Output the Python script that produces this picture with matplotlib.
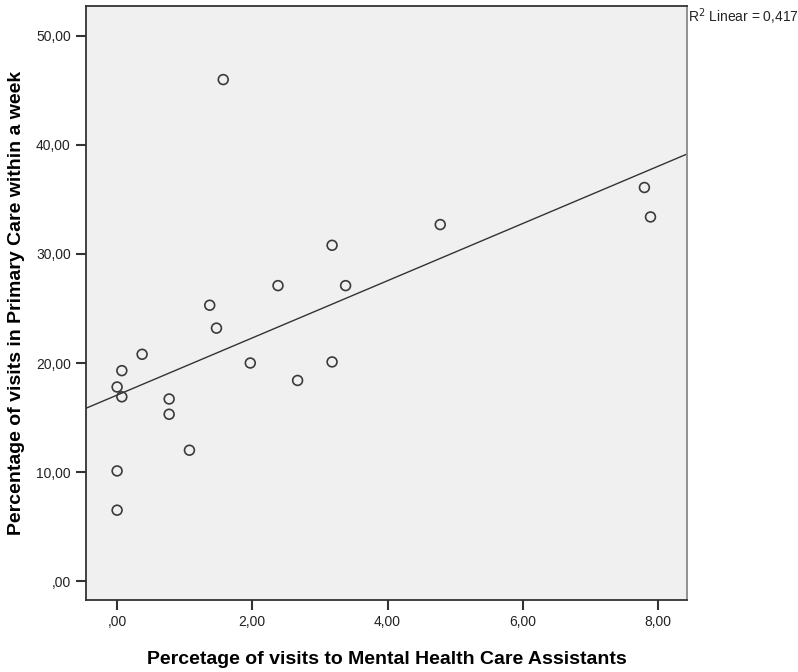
import numpy as np
import matplotlib
matplotlib.use("Agg")
import matplotlib.pyplot as plt
from matplotlib.ticker import FuncFormatter

plt.rcParams['font.family'] = ['Liberation Sans', 'DejaVu Sans']

# data
mhca_pct = [1.57, 7.80, 7.89, 4.78, 3.18, 2.38, 3.38, 1.37, 1.47, 0.37, 0.07,
            0.00, 0.07, 0.77, 0.77, 1.97, 3.18, 2.67, 1.07, 0.00, 0.00]
pc_pct = [46.0, 36.1, 33.4, 32.7, 30.8, 27.1, 27.1, 25.3, 23.2, 20.8, 19.3,
          17.8, 16.9, 16.7, 15.3, 20.0, 20.1, 18.4, 12.0, 10.1, 6.5]
x_ticks = [0, 2, 4, 6, 8]
y_ticks = [0, 10, 20, 30, 40, 50]
r2_label = "R$^2$ Linear = 0,417"

x = np.array(mhca_pct)
y = np.array(pc_pct)


def comma_fmt(v, pos):
    s = f"{v:.2f}".replace(".", ",")
    if s.startswith("0,"):
        s = s[1:]
    return s


fig = plt.figure(figsize=(7.98, 6.72), dpi=100)
ax = fig.add_axes([86/798, 1 - 600/672, (687-86)/798, (600-6)/672])
ax.set_facecolor("#f0f0f0")

ax.set_xlim(-0.46, 8.43)
ax.set_ylim(-1.74, 52.75)

# linear fit line across the whole axis
slope, intercept = np.polyfit(x, y, 1)
xl = np.array(ax.get_xlim())
ax.plot(xl, slope * xl + intercept, color="#333333", lw=1.0, zorder=2)

ax.scatter(x, y, s=50, facecolors="none", edgecolors="#3a3a3a",
           linewidths=1.2, zorder=3)

ax.set_xticks(x_ticks)
ax.set_yticks(y_ticks)
ax.xaxis.set_major_formatter(FuncFormatter(comma_fmt))
ax.yaxis.set_major_formatter(FuncFormatter(comma_fmt))
ax.tick_params(direction="out", length=7, width=1.5, color="#333333",
               labelsize=10, labelcolor="#222222", pad=4)

for side in ["left", "bottom", "top"]:
    ax.spines[side].set_color("#333333")
    ax.spines[side].set_linewidth(1.3)
ax.spines["right"].set_color("#888888")
ax.spines["right"].set_linewidth(1.3)

ax.set_xlabel("Percetage of visits to Mental Health Care Assistants",
              fontsize=14, fontweight="bold", labelpad=16)
ax.set_ylabel("Percentage of visits in Primary Care within a week",
              fontsize=14, fontweight="bold", labelpad=8)

fig.text(688/798, 1 - 17/672, r2_label, fontsize=10, color="#222222",
         ha="left", va="center")

fig.savefig("out.png", dpi=100, facecolor="white")
